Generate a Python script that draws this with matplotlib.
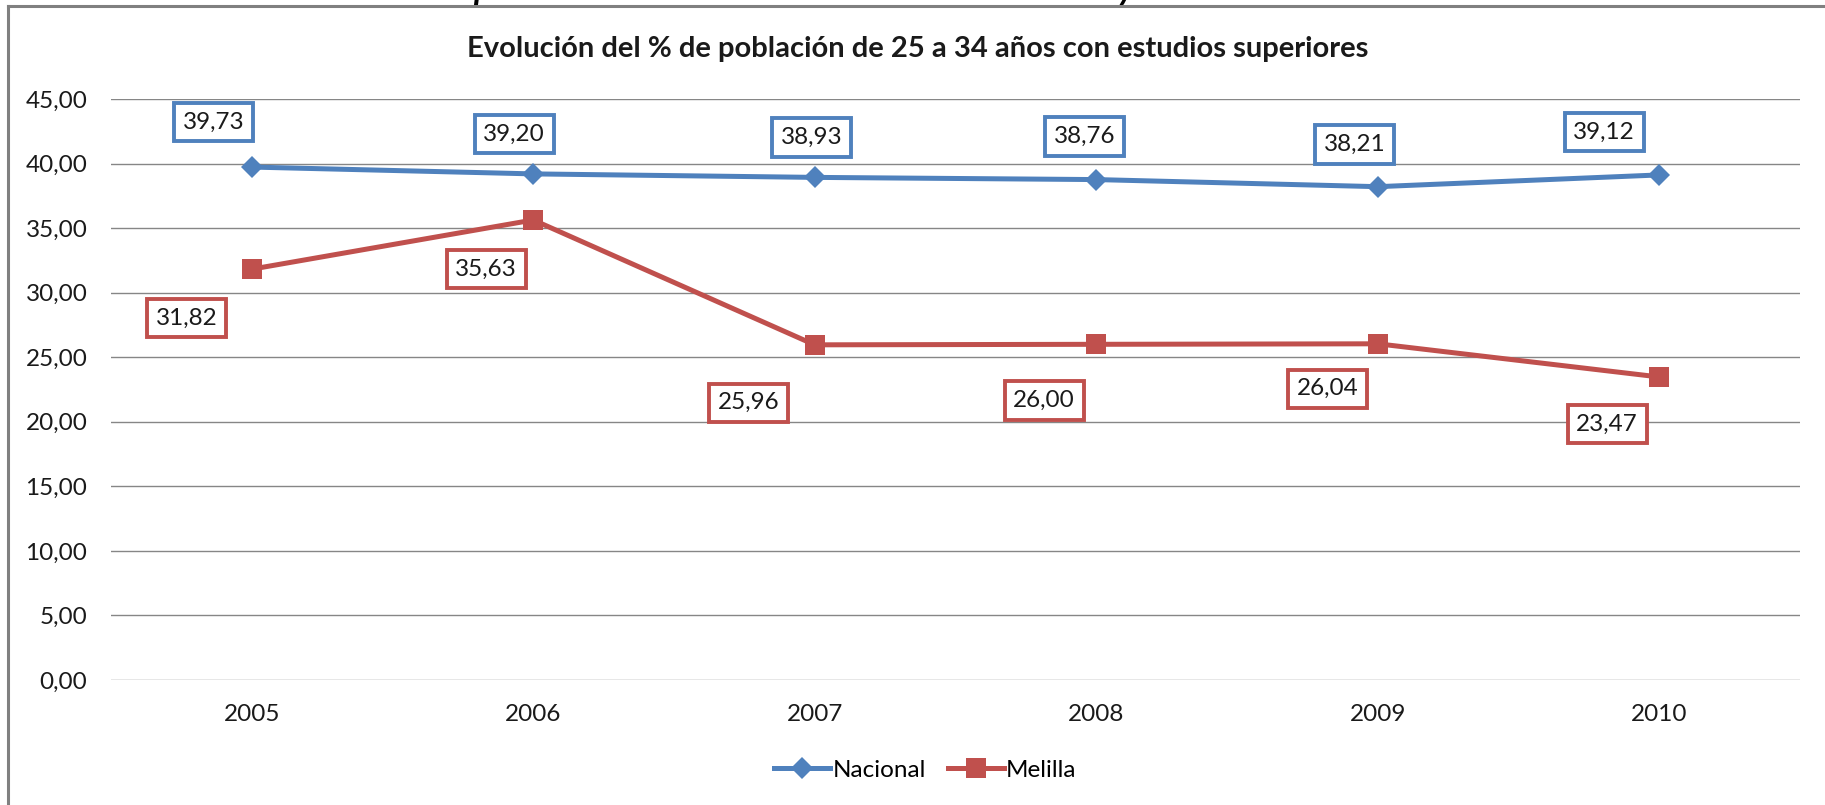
import matplotlib
matplotlib.use("Agg")
import matplotlib.pyplot as plt
from matplotlib.lines import Line2D
from matplotlib.ticker import FuncFormatter, MultipleLocator

# ---------------------------------------------------------------------
# Data
# ---------------------------------------------------------------------

years = ["2005", "2006", "2007", "2008", "2009", "2010"]
nacional = [39.73, 39.20, 38.93, 38.76, 38.21, 39.12]
melilla = [31.82, 35.63, 25.96, 26.00, 26.04, 23.47]

# label offsets (pixels, from each point) - hand placed like the original
nac_offsets = [(-38, 45), (-19, 40), (-3, 40), (-12, 43), (-23, 42), (-55, 43)]
mel_offsets = [(-65, -49), (-47, -49), (-66, -58), (-52, -56), (-50, -45), (-52, -47)]

BLUE = "#4F81BD"
RED = "#C0504D"
GRID = "#868686"
TXT = "#1a1a1a"
FONT = "Lato"

plt.rcParams["font.family"] = [FONT, "DejaVu Sans"]


def fmt(v):
    return f"{v:.2f}".replace(".", ",")


fig = plt.figure(figsize=(18.25, 8.05), dpi=100)
ax = fig.add_axes([0.0608, 0.1553, 0.9255, 0.7217])

x = list(range(len(years)))
ax.plot(x, nacional, color=BLUE, lw=3.6, marker="D", ms=11, mew=0,
        label="Nacional", zorder=3)
ax.plot(x, melilla, color=RED, lw=3.6, marker="s", ms=14.5, mew=0,
        label="Melilla", zorder=3)

for vals, offs, col in [(nacional, nac_offsets, BLUE), (melilla, mel_offsets, RED)]:
    for xi, v, off in zip(x, vals, offs):
        ax.annotate(fmt(v), (xi, v), xytext=off, textcoords="offset pixels",
                    ha="center", va="center", fontsize=17.5, color=TXT,
                    bbox=dict(boxstyle="square,pad=0.36", fc="white", ec=col, lw=2.8),
                    zorder=4)

ax.set_xlim(-0.5, len(years) - 0.5)
ax.set_ylim(0, 45)
ax.yaxis.set_major_locator(MultipleLocator(5))
ax.yaxis.set_major_formatter(FuncFormatter(lambda v, p: fmt(v)))
ax.set_xticks(x)
ax.set_xticklabels(years)
ax.tick_params(axis="both", length=0, labelsize=17.5, colors=TXT)
ax.tick_params(axis="y", pad=17)
ax.tick_params(axis="x", pad=17)
ax.grid(axis="y", color=GRID, lw=1.0)
ax.set_axisbelow(True)
for s in ax.spines.values():
    s.set_visible(False)

fig.text(0.503, 0.939, "Evolución del % de población de 25 a 34 años con estudios superiores",
         ha="center", va="center", fontsize=21, fontweight="bold", color=TXT)

leg = fig.legend(loc="center", bbox_to_anchor=(0.507, 0.043), ncol=2, frameon=False,
                 fontsize=17.5, handlelength=2.3, handletextpad=0.1, columnspacing=0.9)

# chart frame (top and left edges only, the rest is cropped)
fig.add_artist(Line2D([0.0044, 1.0], [0.9925, 0.9925], color="#808080", lw=2.2,
                      transform=fig.transFigure))
fig.add_artist(Line2D([0.0044, 0.0044], [0.0, 0.9925], color="#808080", lw=2.2,
                      transform=fig.transFigure))

# cut off descenders of the heading above the chart
fig.text(0.264, 1.0, "p", ha="center", va="baseline", fontsize=24,
         fontweight="bold", fontstyle="italic", color="black")
fig.text(0.617, 1.0, "y", ha="center", va="baseline", fontsize=24,
         fontweight="bold", fontstyle="italic", color="black")

fig.savefig("out.png", dpi=100, facecolor="white")
